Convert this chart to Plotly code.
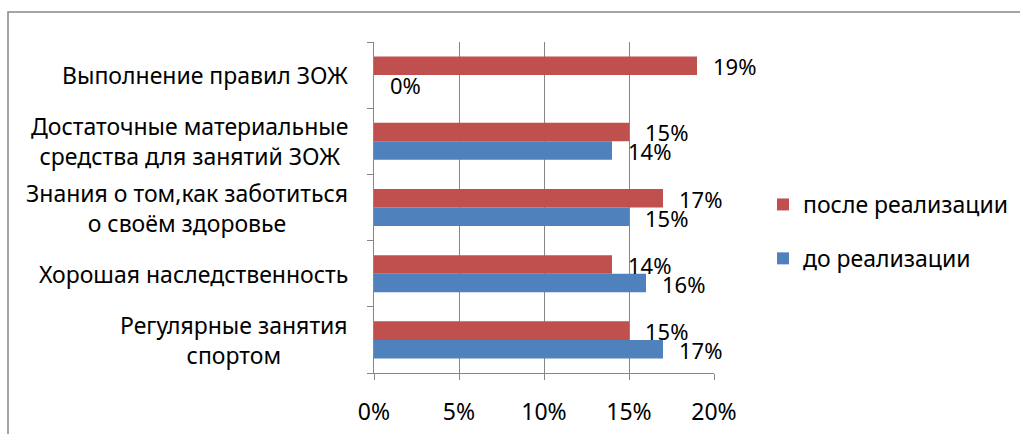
import plotly.graph_objects as go

categories = [
    "Регулярные занятия<br>спортом",
    "Хорошая наследственность",
    "Знания о том,как заботиться<br>о своём здоровье",
    "Достаточные материальные<br>средства для занятий ЗОЖ",
    "Выполнение правил ЗОЖ",
]
before_vals = [17, 16, 15, 14, 0]
after_vals = [15, 14, 17, 15, 19]
before_name = "до реализации"
after_name = "после реализации"
x_ticks = [0, 5, 10, 15, 20]
x_tick_labels = ["0%", "5%", "10%", "15%", "20%"]

BLUE = "#4F81BD"
RED = "#C0504D"
FONT = "Noto Sans"
FS = 23

fig = go.Figure()
fig.add_trace(go.Bar(
    y=categories, x=before_vals, orientation="h", name=before_name,
    marker=dict(color=BLUE, line=dict(width=0)),
    legendgroup="b", legendrank=2,
))
fig.add_trace(go.Bar(
    y=categories, x=after_vals, orientation="h", name=after_name,
    marker=dict(color=RED, line=dict(width=0)),
    legendgroup="a", legendrank=1,
))

ann = []
for c, v in zip(categories, after_vals):
    ann.append(dict(x=v, y=c, xref="x", yref="y", text=f"{v}%", showarrow=False,
                    xanchor="left", yanchor="middle", xshift=14, yshift=9,
                    font=dict(family=FONT, size=FS - 1, color="#000")))
for c, v in zip(categories, before_vals):
    ann.append(dict(x=v, y=c, xref="x", yref="y", text=f"{v}%", showarrow=False,
                    xanchor="left", yanchor="middle", xshift=14, yshift=-10,
                    font=dict(family=FONT, size=FS - 1, color="#000")))
for c in categories:
    ann.append(dict(x=0, y=c, xref="paper", yref="y", text=c, showarrow=False,
                    xanchor="right", yanchor="middle", align="center", xshift=-24,
                    font=dict(family=FONT, size=FS, color="#000")))

L, T, W, H = 374, 42, 340, 331
fig.add_shape(type="rect", xref="paper", yref="paper",
              x0=(8 - L) / W, x1=(1040 - L) / W,
              y0=(T + H - 460) / H, y1=(T + H - 12) / H,
              line=dict(color="#868686", width=1.5), fillcolor="rgba(0,0,0,0)")

fig.update_layout(
    width=1020, height=434,
    margin=dict(l=L, r=1020 - L - W, t=T, b=434 - T - H, autoexpand=False),
    paper_bgcolor="white", plot_bgcolor="white",
    barmode="group", bargap=0.44, bargroupgap=0,
    font=dict(family=FONT, size=FS, color="#000"),
    annotations=ann,
    showlegend=True,
    legend=dict(x=(763 - L) / W, y=(T + H - 183) / H, xanchor="left", yanchor="top",
                traceorder="grouped", tracegroupgap=21,
                font=dict(family=FONT, size=FS, color="#000"),
                bgcolor="rgba(0,0,0,0)"),
    xaxis=dict(range=[0, 20], tickvals=x_ticks, ticktext=x_tick_labels,
               showgrid=True, gridcolor="#868686", gridwidth=1,
               showline=True, linecolor="#868686", linewidth=1,
               ticks="outside", ticklen=6, tickcolor="#868686", ticklabelstandoff=12,
               zeroline=False, fixedrange=True),
    yaxis=dict(type="category", categoryorder="array", categoryarray=categories,
               showticklabels=False, showgrid=False,
               showline=True, linecolor="#868686", linewidth=1,
               ticks="outside", ticklen=6, tickcolor="#868686", tickson="boundaries",
               zeroline=False, fixedrange=True),
)

fig.write_html("out.html", config={"displayModeBar": False},
               post_script="document.body.style.margin='0';document.body.style.overflow='hidden';")
